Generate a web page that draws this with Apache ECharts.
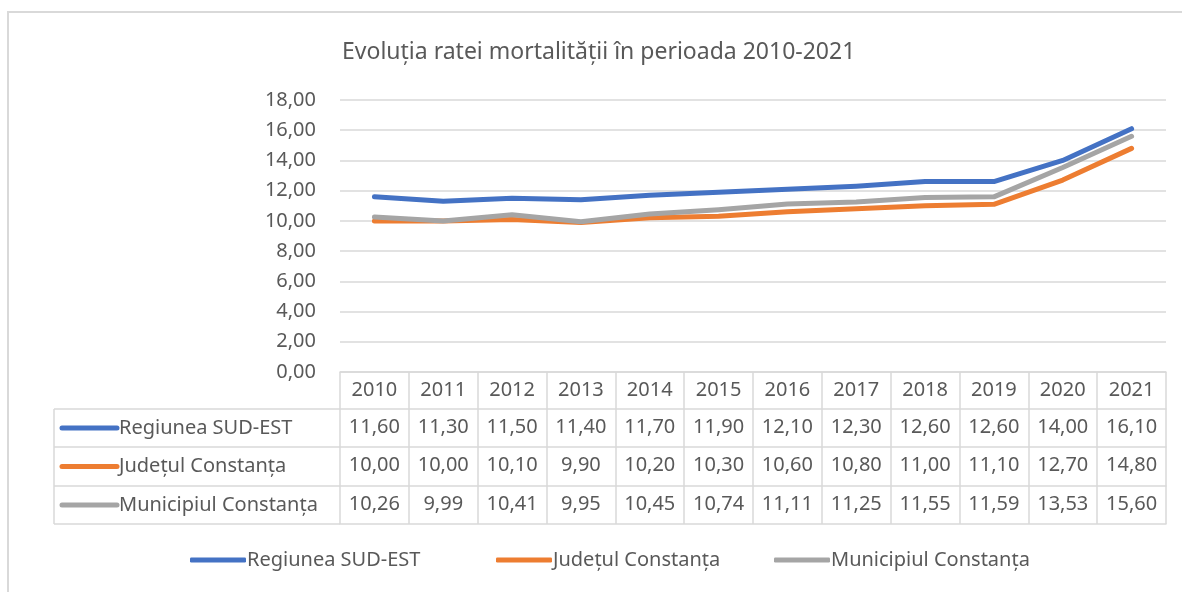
<!DOCTYPE html>
<html>
<head>
<meta charset="utf-8">
<script src="https://cdn.jsdelivr.net/npm/echarts@6/dist/echarts.min.js"></script>
<style>
	html, body { margin: 0; padding: 0; background: #fff; }
	#main { width: 1182px; height: 592px; }
</style>
</head>
<body>
<div id="main"></div>
<script>
// chart data
var years = ['2010', '2011', '2012', '2013', '2014', '2015', '2016', '2017', '2018', '2019', '2020', '2021'];
var seriesNames = ['Regiunea SUD-EST', 'Județul Constanța', 'Municipiul Constanța'];
var regiuneaSudEst = [11.60, 11.30, 11.50, 11.40, 11.70, 11.90, 12.10, 12.30, 12.60, 12.60, 14.00, 16.10];
var judetulConstanta = [10.00, 10.00, 10.10, 9.90, 10.20, 10.30, 10.60, 10.80, 11.00, 11.10, 12.70, 14.80];
var municipiulConstanta = [10.26, 9.99, 10.41, 9.95, 10.45, 10.74, 11.11, 11.25, 11.55, 11.59, 13.53, 15.60];
var colors = ['#4472C4', '#ED7D31', '#A5A5A5'];

var fontFamily = 'Noto Sans';
var textColor = '#595959';
var lineColor = '#d9d9d9';

function fmt(v) {
	return v.toFixed(2).replace('.', ',');
}

/**
 * one row of the data table, drawn as an extra x axis under the grid
 */
function tableAxis(data, offset, height, showLabel) {
	return {
		type: 'category',
		position: 'bottom',
		offset: offset,
		data: data,
		boundaryGap: true,
		axisLine: { show: true, lineStyle: { color: lineColor, width: 1.5 } },
		axisTick: { show: showLabel, interval: 0, length: height, lineStyle: { color: lineColor, width: 1.5 } },
		axisLabel: {
			show: showLabel,
			interval: 0,
			margin: 8,
			color: textColor,
			fontFamily: fontFamily,
			fontSize: 20
		},
		splitLine: { show: false }
	};
}

/**
 * legend for one series, placed where the reference has it
 */
function legendItem(name, left) {
	return {
		data: [name],
		left: left,
		top: 550,
		padding: 0,
		icon: 'roundRect',
		itemWidth: 56,
		itemHeight: 5,
		textStyle: {
			color: textColor,
			fontFamily: fontFamily,
			fontSize: 20,
			padding: [0, 0, 0, -4]
		}
	};
}

var chart = echarts.init(document.getElementById('main'));

var rows = [regiuneaSudEst, judetulConstanta, municipiulConstanta];
var rowTops = [409, 447, 486];
var rowBottom = 524;
var gridBottomY = 372;

var xAxes = [tableAxis(years, 0, 37, true)];
for (var r = 0; r < rows.length; r++) {
	var h = (r + 1 < rowTops.length ? rowTops[r + 1] : rowBottom) - rowTops[r];
	xAxes.push(tableAxis(rows[r].map(fmt), rowTops[r] - gridBottomY, h, true));
}
xAxes.push(tableAxis(years, rowBottom - gridBottomY, 0, false));

// left column of the table: borders, swatches and names
var graphics = [
	{
		type: 'rect', silent: true,
		shape: { x: 8, y: 12, width: 1300, height: 700 },
		style: { fill: null, stroke: lineColor, lineWidth: 2 }
	},
	{
		type: 'line', silent: true,
		shape: { x1: 54, y1: rowTops[0], x2: 54, y2: rowBottom },
		style: { stroke: lineColor, lineWidth: 1.5 }
	}
];
var hLines = rowTops.concat([rowBottom]);
for (var i = 0; i < hLines.length; i++) {
	graphics.push({
		type: 'line', silent: true,
		shape: { x1: 54, y1: hLines[i], x2: 340, y2: hLines[i] },
		style: { stroke: lineColor, lineWidth: 1.5 }
	});
}
for (var k = 0; k < seriesNames.length; k++) {
	var rowTop = rowTops[k];
	var rowEnd = k + 1 < rowTops.length ? rowTops[k + 1] : rowBottom;
	var mid = (rowTop + rowEnd) / 2;
	graphics.push({
		type: 'line', silent: true,
		shape: { x1: 62, y1: mid, x2: 117, y2: mid },
		style: { stroke: colors[k], lineWidth: 5, lineCap: 'round' }
	});
	graphics.push({
		type: 'text', silent: true,
		x: 119, y: mid,
		style: {
			text: seriesNames[k],
			fill: textColor,
			font: '20px "' + fontFamily + '"',
			verticalAlign: 'middle'
		}
	});
}

var option = {
	animation: false,
	backgroundColor: '#fff',
	color: colors,
	title: {
		text: 'Evoluția ratei mortalității în perioada 2010-2021',
		left: 337,
		top: 36,
		textStyle: {
			color: textColor,
			fontFamily: fontFamily,
			fontSize: 23,
			fontWeight: 'normal'
		}
	},
	legend: [
		legendItem(seriesNames[0], 190),
		legendItem(seriesNames[1], 496),
		legendItem(seriesNames[2], 774)
	],
	grid: {
		left: 340,
		right: 16,
		top: 100,
		bottom: 592 - gridBottomY,
		containLabel: false
	},
	xAxis: xAxes,
	yAxis: {
		type: 'value',
		min: 0,
		max: 18,
		interval: 2,
		axisLine: { show: false },
		axisTick: { show: false },
		axisLabel: {
			margin: 24,
			color: textColor,
			fontFamily: fontFamily,
			fontSize: 20,
			formatter: function (v) { return fmt(v); }
		},
		splitLine: { lineStyle: { color: lineColor, width: 1.5 } }
	},
	graphic: graphics,
	series: [
		{
			name: seriesNames[0],
			type: 'line',
			xAxisIndex: 0,
			data: regiuneaSudEst,
			showSymbol: false,
			lineStyle: { width: 5, color: colors[0], cap: 'round', join: 'round' },
			itemStyle: { color: colors[0] },
			z: 3
		},
		{
			name: seriesNames[1],
			type: 'line',
			xAxisIndex: 0,
			data: judetulConstanta,
			showSymbol: false,
			lineStyle: { width: 5, color: colors[1], cap: 'round', join: 'round' },
			itemStyle: { color: colors[1] },
			z: 4
		},
		{
			name: seriesNames[2],
			type: 'line',
			xAxisIndex: 0,
			data: municipiulConstanta,
			showSymbol: false,
			lineStyle: { width: 5, color: colors[2], cap: 'round', join: 'round' },
			itemStyle: { color: colors[2] },
			z: 5
		}
	]
};

chart.setOption(option);
</script>
</body>
</html>
